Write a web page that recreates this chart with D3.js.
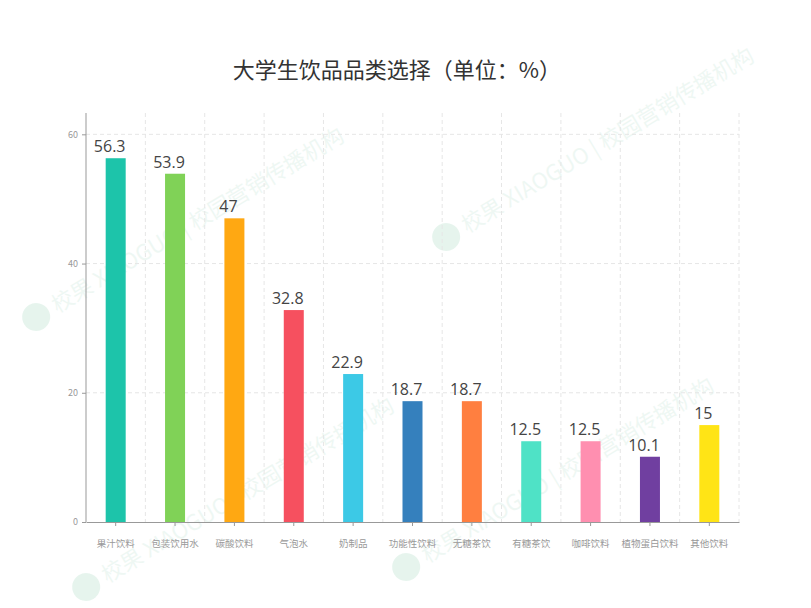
<!DOCTYPE html>
<html>
<head>
<meta charset="utf-8">
<script src="https://cdn.jsdelivr.net/npm/d3@7"></script>
<style>
    body { margin: 0; background: #fff; font-family: "Noto Sans CJK SC", "Noto Sans", sans-serif; }
    .grid line { stroke: #e6e6e6; stroke-dasharray: 4, 3; }
    .axis path, .axis line { stroke: #999; }
    .axis text { fill: #999; font-family: "Noto Sans CJK SC", sans-serif; }
    .wm { fill: #3aa874; opacity: 0.08; font-family: "Noto Sans CJK SC", sans-serif; }
</style>
</head>
<body>
<div id="chart"></div>
<script>
// drink categories and share of students (%)
var categories = ["果汁饮料", "包装饮用水", "碳酸饮料", "气泡水", "奶制品", "功能性饮料",
    "无糖茶饮", "有糖茶饮", "咖啡饮料", "植物蛋白饮料", "其他饮料"];
var values = [56.3, 53.9, 47, 32.8, 22.9, 18.7, 18.7, 12.5, 12.5, 10.1, 15];
var colors = ["#1dc4aa", "#80d257", "#ffa812", "#f6505f", "#3cc9e6", "#3580bd",
    "#ff7f40", "#4fe2c6", "#ff8fb0", "#703fa0", "#ffe416"];
var yTicks = [0, 20, 40, 60];

var w = 811, h = 608,
    margin = { top: 113, bottom: 86, left: 86, right: 72 };
var width = w - margin.left - margin.right,
    height = h - margin.top - margin.bottom;

var svg = d3.select("#chart").append("svg")
    .attr("width", w)
    .attr("height", h);

// watermark
var wmText = "校果 XIAOGUO | 校园营销传播机构";
var wmSpots = [[30, 330], [400, 580], [440, 250], [80, 600]];
var wm = svg.append("g");
wmSpots.forEach(function (p) {
    var g = wm.append("g").attr("transform", "translate(" + p[0] + "," + p[1] + ") rotate(-31)");
    g.append("circle").attr("class", "wm").attr("cx", 12).attr("cy", -8).attr("r", 14).style("opacity", 0.13);
    g.append("text").attr("class", "wm").attr("x", 32).attr("y", 0)
        .style("font-size", "22px").text(wmText);
});

var chart = svg.append("g")
    .attr("transform", "translate(" + margin.left + "," + margin.top + ")");

var x = d3.scaleBand()
    .domain(categories)
    .range([0, width]);
var y = d3.scaleLinear()
    .domain([0, 63.3])
    .range([height, 0]);

// grid
var grid = chart.append("g").classed("grid", true);
grid.selectAll(".hg")
    .data(yTicks.slice(1))
    .enter().append("line")
    .attr("x1", 0).attr("x2", width)
    .attr("y1", function (d) { return y(d); })
    .attr("y2", function (d) { return y(d); });
grid.selectAll(".vg")
    .data(categories)
    .enter().append("line")
    .attr("x1", function (d) { return x(d) + x.bandwidth(); })
    .attr("x2", function (d) { return x(d) + x.bandwidth(); })
    .attr("y1", 0).attr("y2", height);

// axes
var xAxis = d3.axisBottom(x).tickSize(4).tickSizeOuter(0).tickPadding(14),
    yAxis = d3.axisLeft(y).tickValues(yTicks).tickSize(4).tickSizeOuter(0).tickPadding(4);

chart.append("g")
    .classed("axis x", true)
    .attr("transform", "translate(0," + height + ")")
    .call(xAxis)
    .selectAll("text")
    .style("font-size", "9.5px");

chart.append("g")
    .classed("axis y", true)
    .call(yAxis)
    .selectAll("text")
    .style("font-size", "9px");
chart.select(".y.axis path").attr("d", "M0," + height + "V0");

// bars
var barW = 20;
chart.selectAll(".bar")
    .data(values)
    .enter().append("rect")
    .classed("bar", true)
    .attr("x", function (d, i) { return x(categories[i]) + x.bandwidth() / 2 - barW / 2; })
    .attr("y", function (d) { return y(d); })
    .attr("width", barW)
    .attr("height", function (d) { return height - y(d); })
    .style("fill", function (d, i) { return colors[i]; });

chart.selectAll(".val")
    .data(values)
    .enter().append("text")
    .classed("val", true)
    .attr("x", function (d, i) { return x(categories[i]) + x.bandwidth() / 2 - 6; })
    .attr("y", function (d) { return y(d) - 6; })
    .attr("text-anchor", "middle")
    .style("font-size", "16px")
    .style("fill", "#444")
    .style("font-family", "'Open Sans', sans-serif")
    .text(function (d) { return d; });

// chart header
svg.append("text")
    .attr("x", 397)
    .attr("y", 78)
    .attr("text-anchor", "middle")
    .style("font-size", "22px")
    .style("fill", "#333")
    .text("大学生饮品品类选择（单位：%）");
</script>
</body>
</html>
